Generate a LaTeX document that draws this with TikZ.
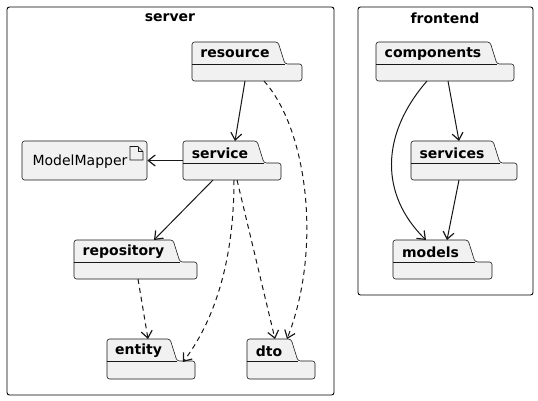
\documentclass[tikz,border=0pt]{standalone}
\usepackage{fontspec}
\setmainfont{DejaVu Sans}
\usetikzlibrary{arrows.meta}
\definecolor{pkgfill}{HTML}{F1F1F1}
\definecolor{ink}{HTML}{181818}
\tikzset{
  pkgshape/.style={draw=ink, fill=pkgfill, line width=0.6pt, rounded corners=2.5pt},
  pkgarea/.style={inner sep=0pt, outer sep=0pt},
  pkglabel/.style={font=\bfseries\fontsize{14}{14}\selectfont, inner sep=0pt, text=black},
  framebox/.style={draw=black, line width=0.9pt, rounded corners=2.5pt},
  frametitle/.style={font=\bfseries\fontsize{14}{14}\selectfont, inner sep=0pt},
  dep/.style={draw=ink, line width=1pt, -{Straight Barb[length=7pt,width=11pt,line width=1.2pt]}},
  dashdep/.style={dep, dash pattern=on 5pt off 4pt},
}
% #1 name, #2 left, #3 top, #4 tab right, #5 right, #6 bottom, #7 label
\newcommand\pkgdraw[7]{%
  \draw[pkgshape] (#2,#6) -- (#2,#3) -- (#4,#3) -- ({#4+7},{#3+22}) -- (#5,{#3+22}) -- (#5,#6) -- cycle;
  \draw[draw=ink, line width=0.6pt] (#2,{#3+22}) -- ({#4+7},{#3+22});
  \node[pkgarea, minimum width={(#5-#2)*1pt}, minimum height={(#6-#3)*1pt}] (#1) at ({(#2+#5)/2},{(#3+#6)/2}) {};
  \node[pkglabel] (#1-label) at ({(#2+#4)/2},{#3+12}) {#7};
}
\begin{document}
\begin{tikzpicture}[x=1pt,y=-1pt]
\useasboundingbox (0,0) rectangle (538,400);
% frames
\draw[framebox] (7,7) rectangle (334,395);
\node[frametitle] (servertitle) at (170,18) {server};
\draw[framebox] (358,7) rectangle (533,295);
\node[frametitle] (frontendtitle) at (445,18) {frontend};

% server packages
\pkgdraw{res}{192}{42}{278}{302}{81}{resource}
\pkgdraw{svc}{183}{141}{257}{281}{180}{service}
\pkgdraw{repo}{74}{240}{173}{197}{279}{repository}
\pkgdraw{ent}{107}{339}{170}{195}{379}{entity}
\pkgdraw{dto}{247}{339}{291}{315}{379}{dto}

% ModelMapper artifact
\node[pkgshape, minimum width=125pt, minimum height=39pt, inner sep=0pt] (mm) at (84.5,160.5) {};
\node[font=\fontsize{14}{14}\selectfont, inner sep=0pt] (mmlabel) at (80,162) {ModelMapper};
\draw[draw=ink, line width=0.6pt, fill=pkgfill] (130,146.5) -- (138,146.5) -- (143,151.5) -- (143,160) -- (130,160) -- cycle;
\draw[draw=ink, line width=0.6pt] (138,146.5) -- (138,151.5) -- (143,151.5);

% frontend packages
\pkgdraw{comp}{376}{42}{490}{514}{81}{components}
\pkgdraw{serv}{411}{141}{493}{517}{180}{services}
\pkgdraw{mod}{393}{240}{468}{492}{279}{models}

% server connectors
\draw[dep] ([xshift=-2pt]res.south) -- ([xshift=3pt]svc.north);
\draw[dashdep] ([xshift=17pt]res.south) .. controls (308,130) and (322,250) .. ([xshift=6pt]dto.north);
\draw[dep] (svc.west) -- (mm.east);
\draw[dep] ([xshift=-19pt]svc.south) -- ([xshift=18.5pt]repo.north);
\draw[dashdep] ([xshift=2pt]svc.south) .. controls (234,260) and (215,320) .. ([yshift=17pt,xshift=32pt]ent.south);
\draw[dashdep] ([xshift=5pt]svc.south) -- ([xshift=-6pt]dto.north);
\draw[dashdep] ([xshift=2.5pt]repo.south) -- ([xshift=-3pt]ent.north);

% frontend connectors
\draw[dep] ([xshift=3pt]comp.south) -- ([xshift=-5pt]serv.north);
\draw[dep] ([xshift=-18pt]comp.south) .. controls (380,135) and (380,195) .. ([xshift=-16.5pt]mod.north);
\draw[dep] ([xshift=-5pt]serv.south) -- ([xshift=4.5pt]mod.north);
\end{tikzpicture}
\end{document}
